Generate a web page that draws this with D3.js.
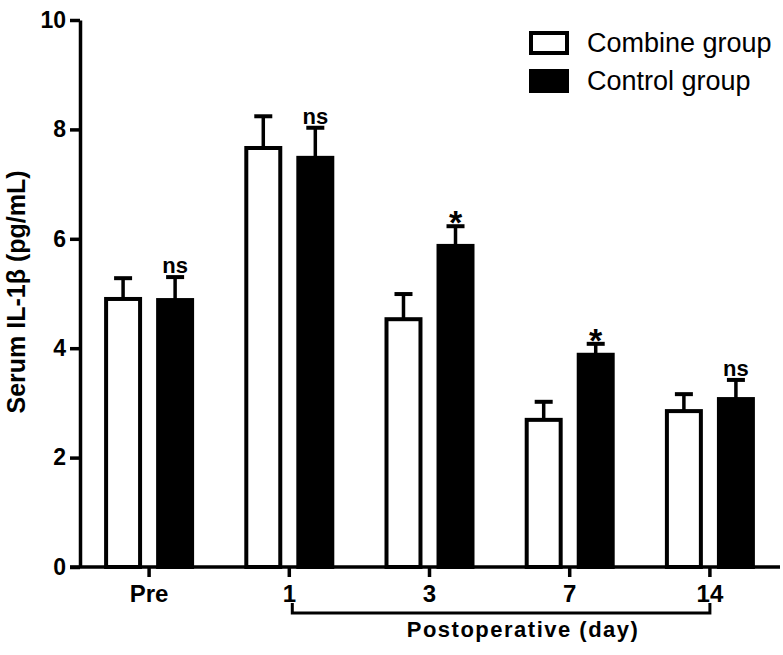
<!DOCTYPE html>
<html>
<head>
<meta charset="utf-8">
<script src="https://cdn.jsdelivr.net/npm/d3@7"></script>
<style>
body { margin: 0; background: #fff; }
svg text { font-family: Arial, "Liberation Sans", sans-serif; }
</style>
</head>
<body>
<svg id="graph"></svg>
<script>
// data
var days = ["Pre", "1", "3", "7", "14"]
var series = ["Combine group", "Control group"]
var combine = [4.90, 7.66, 4.53, 2.69, 2.85]
var combineErr = [0.38, 0.58, 0.46, 0.33, 0.31]
var control = [4.88, 7.48, 5.87, 3.88, 3.07]
var controlErr = [0.42, 0.55, 0.36, 0.20, 0.35]
var signif = ["ns", "ns", "*", "*", "ns"]
var yTicks = [0, 2, 4, 6, 8, 10]

var screen = {width: 783, height: 655}
var svg = d3.select("#graph")
    .attr("width", screen.width)
    .attr("height", screen.height)

var xScale = d3.scaleBand()
    .domain(days)
    .range([79, 780])
    .padding(0)

var sub = d3.scaleBand()
    .domain(series)
    .range([-45, 45])
    .paddingInner(0.27)
    .paddingOuter(0)

var yScale = d3.scaleLinear()
    .domain([0, 10])
    .range([567, 20])

var center = function (d) { return xScale(d) + xScale.bandwidth() / 2 }
var sw = 4

// y axis
var yAxis = svg.append("g")
    .attr("transform", "translate(80,0)")
    .call(d3.axisLeft(yScale).tickValues(yTicks).tickSize(10).tickSizeOuter(0).tickPadding(4))
yAxis.selectAll("line, path").attr("stroke", "#000").attr("stroke-width", 3.5)
yAxis.selectAll("text")
    .attr("fill", "#000")
    .style("font-size", "23px")
    .style("font-weight", "bold")

// x axis
var xAxis = svg.append("g")
    .attr("transform", "translate(0," + yScale(0) + ")")
    .call(d3.axisBottom(xScale).tickSize(10).tickSizeOuter(0).tickPadding(8))
xAxis.select(".domain").attr("d", "M70,0H780")
xAxis.selectAll("line, path").attr("stroke", "#000").attr("stroke-width", 3.5)
xAxis.selectAll("text")
    .attr("fill", "#000")
    .style("font-size", "24px")
    .style("font-weight", "bold")

// bars
var rows = days.map(function (d, i) {
    return [
        {day: d, s: series[0], v: combine[i], e: combineErr[i], fill: "#fff"},
        {day: d, s: series[1], v: control[i], e: controlErr[i], fill: "#000"}
    ]
})
var flat = [].concat.apply([], rows)

// error bars first so the bar top covers the stem base
var err = svg.append("g").selectAll("g")
    .data(flat)
    .enter()
    .append("g")
    .attr("transform", function (d) { return "translate(" + (center(d.day) + sub(d.s) + sub.bandwidth() / 2) + ",0)" })
err.append("line")
    .attr("x1", 0).attr("x2", 0)
    .attr("y1", function (d) { return yScale(d.v) })
    .attr("y2", function (d) { return yScale(d.v + d.e) })
    .attr("stroke", "#000").attr("stroke-width", 3.5)
err.append("line")
    .attr("x1", -9).attr("x2", 9)
    .attr("y1", function (d) { return yScale(d.v + d.e) })
    .attr("y2", function (d) { return yScale(d.v + d.e) })
    .attr("stroke", "#000").attr("stroke-width", 4)

svg.append("g").selectAll("rect")
    .data(flat)
    .enter()
    .append("rect")
    .attr("x", function (d) { return center(d.day) + sub(d.s) + sw / 2 })
    .attr("width", sub.bandwidth() - sw)
    .attr("y", function (d) { return yScale(d.v) })
    .attr("height", function (d) { return yScale(0) - yScale(d.v) })
    .attr("fill", function (d) { return d.fill })
    .attr("stroke", "#000")
    .attr("stroke-width", sw)

// significance marks over the control bars
svg.append("g").selectAll("text")
    .data(days)
    .enter()
    .append("text")
    .attr("x", function (d) { return center(d) + sub(series[1]) + sub.bandwidth() / 2 })
    .attr("y", function (d, i) {
        var top = yScale(control[i] + controlErr[i])
        return signif[i] == "*" ? top + 8 : top - 4
    })
    .attr("text-anchor", "middle")
    .style("font-size", function (d, i) { return signif[i] == "*" ? "34px" : "22px" })
    .style("font-weight", "bold")
    .text(function (d, i) { return signif[i] })

// bracket under the postoperative days
var bx0 = center("1") + 3, bx1 = center("14")
svg.append("path")
    .attr("d", "M" + bx0 + ",603V613H" + bx1 + "V603")
    .attr("fill", "none")
    .attr("stroke", "#000")
    .attr("stroke-width", 3)
svg.append("text")
    .attr("x", (bx0 + bx1) / 2 + 22)
    .attr("y", 637)
    .attr("text-anchor", "middle")
    .style("font-size", "22px")
    .style("font-weight", "bold")
    .style("letter-spacing", "1.5px")
    .text("Postoperative (day)")

// y label
svg.append("text")
    .attr("transform", "translate(25,292) rotate(-90)")
    .attr("text-anchor", "middle")
    .style("font-size", "25px")
    .style("font-weight", "bold")
    .text("Serum IL-1β  (pg/mL)")

// legend
var legend = svg.append("g").selectAll("g")
    .data(series)
    .enter()
    .append("g")
    .attr("transform", function (d, i) { return "translate(531," + (33 + i * 38) + ")" })
legend.append("rect")
    .attr("width", 36).attr("height", 20)
    .attr("fill", function (d, i) { return i == 0 ? "#fff" : "#000" })
    .attr("stroke", "#000").attr("stroke-width", sw)
legend.append("text")
    .attr("x", 56).attr("y", 19)
    .style("font-size", "27px")
    .text(function (d) { return d })
</script>
</body>
</html>
